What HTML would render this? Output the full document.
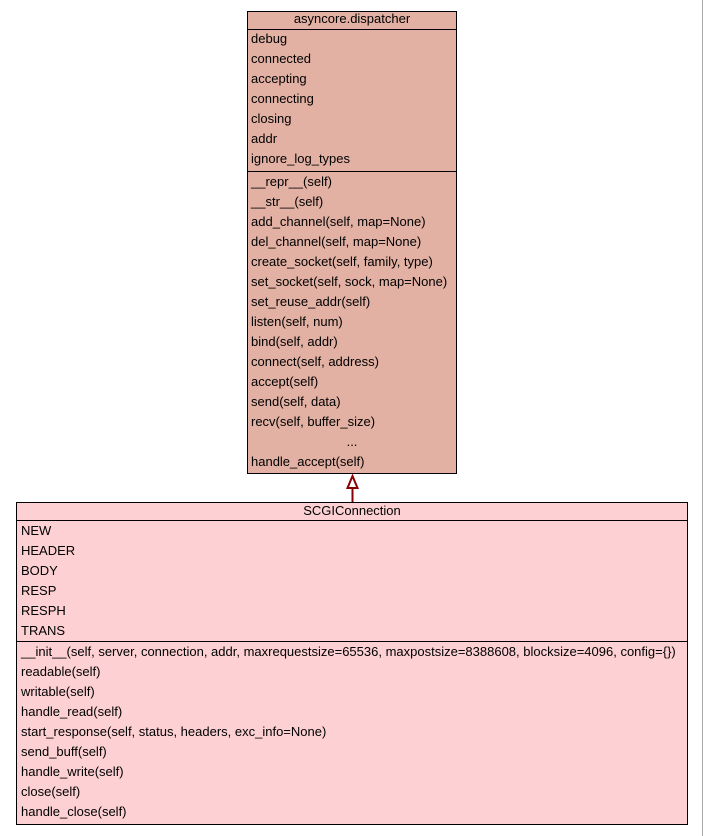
<!DOCTYPE html>
<html><head><meta charset="utf-8"><style>
html,body{margin:0;padding:0;background:#fff;}
svg{display:block;}
text{font-family:"Liberation Sans",Arial,sans-serif;font-size:13px;fill:#000;}
</style></head><body>
<svg width="703" height="836" viewBox="0 0 703 836" xmlns="http://www.w3.org/2000/svg">
<rect x="0" y="0" width="703" height="836" fill="#ffffff"/>
<line x1="702.5" y1="0" x2="702.5" y2="836" stroke="#a8a8a8" stroke-width="1"/>
<!-- Box 1 -->
<rect x="247.5" y="11.5" width="209" height="462" fill="#e2b1a3" stroke="#000" stroke-width="1"/>
<line x1="247.5" y1="29.5" x2="456.5" y2="29.5" stroke="#000" stroke-width="1"/>
<line x1="247.5" y1="171.5" x2="456.5" y2="171.5" stroke="#000" stroke-width="1"/>
<text x="352" y="23" text-anchor="middle">asyncore.dispatcher</text>
<text x="251" y="43">debug</text>
<text x="251" y="63">connected</text>
<text x="251" y="83">accepting</text>
<text x="251" y="103">connecting</text>
<text x="251" y="123">closing</text>
<text x="251" y="143">addr</text>
<text x="251" y="163">ignore_log_types</text>
<text x="251" y="186">__repr__(self)</text>
<text x="251" y="206">__str__(self)</text>
<text x="251" y="226">add_channel(self, map=None)</text>
<text x="251" y="246">del_channel(self, map=None)</text>
<text x="251" y="266">create_socket(self, family, type)</text>
<text x="251" y="286">set_socket(self, sock, map=None)</text>
<text x="251" y="306">set_reuse_addr(self)</text>
<text x="251" y="326">listen(self, num)</text>
<text x="251" y="346">bind(self, addr)</text>
<text x="251" y="366">connect(self, address)</text>
<text x="251" y="386">accept(self)</text>
<text x="251" y="406">send(self, data)</text>
<text x="251" y="426">recv(self, buffer_size)</text>
<text x="352" y="446" text-anchor="middle">...</text>
<text x="251" y="466">handle_accept(self)</text>
<!-- Arrow -->
<line x1="352.5" y1="488" x2="352.5" y2="502" stroke="#8b0000" stroke-width="2"/>
<polygon points="352.5,476 347.5,488 357.5,488" fill="#ffffff" stroke="#8b0000" stroke-width="2"/>
<!-- Box 2 -->
<rect x="16.5" y="502.5" width="671" height="322" fill="#fdd1d3" stroke="#000" stroke-width="1"/>
<line x1="16.5" y1="520.5" x2="687.5" y2="520.5" stroke="#000" stroke-width="1"/>
<line x1="16.5" y1="641.5" x2="687.5" y2="641.5" stroke="#000" stroke-width="1"/>
<text x="352" y="515" text-anchor="middle">SCGIConnection</text>
<text x="21" y="535">NEW</text>
<text x="21" y="555">HEADER</text>
<text x="21" y="575">BODY</text>
<text x="21" y="595">RESP</text>
<text x="21" y="615">RESPH</text>
<text x="21" y="635">TRANS</text>
<text x="21" y="656">__init__(self, server, connection, addr, maxrequestsize=65536, maxpostsize=8388608, blocksize=4096, config={})</text>
<text x="21" y="676">readable(self)</text>
<text x="21" y="696">writable(self)</text>
<text x="21" y="716">handle_read(self)</text>
<text x="21" y="736">start_response(self, status, headers, exc_info=None)</text>
<text x="21" y="756">send_buff(self)</text>
<text x="21" y="776">handle_write(self)</text>
<text x="21" y="796">close(self)</text>
<text x="21" y="816">handle_close(self)</text>
</svg>
</body></html>
